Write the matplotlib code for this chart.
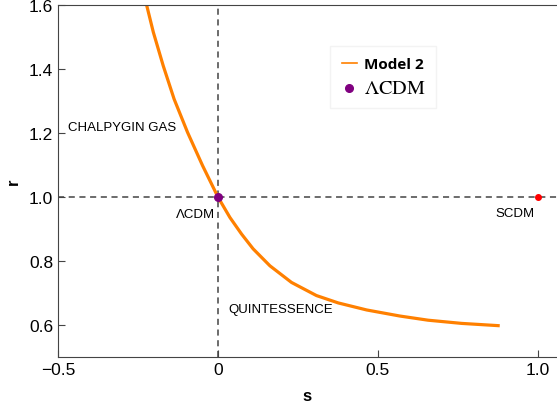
import numpy as np
from matplotlib import pyplot as plt

plt.rcParams['font.family'] = 'Liberation Sans'
plt.rcParams['mathtext.fontset'] = 'stix'

# curve (s, r)
s_vals = [-0.223, -0.202, -0.171, -0.137, -0.095, -0.048, 0.0, 0.0375, 0.074,
          0.110, 0.1625, 0.230, 0.308, 0.376, 0.465, 0.569, 0.657, 0.762, 0.876]
r_vals = [1.600, 1.515, 1.410, 1.306, 1.202, 1.098, 1.0, 0.936, 0.884,
          0.838, 0.785, 0.733, 0.692, 0.669, 0.647, 0.628, 0.615, 0.605, 0.598]

lcdm = (0.0, 1.0)
scdm = (1.0, 1.0)

xticks = [-0.5, 0, 0.5, 1.0]
xticklabels = ['\u22120.5', '0', '0.5', '1.0']
yticks = [0.6, 0.8, 1.0, 1.2, 1.4, 1.6]

W, H = 557, 410
fig = plt.figure(figsize=(W/100, H/100), dpi=100)
ax = fig.add_axes([58/W, (H-358)/H, (W-58)/W, 352/H])

ax.axvline(0, color='#444444', lw=1.1, ls=(0, (4, 3)), zorder=1)
ax.axhline(1, color='#444444', lw=1.1, ls=(0, (4, 3)), zorder=1)

ax.plot(s_vals, r_vals, color='#ff8000', lw=2.3, label='Model 2', zorder=2,
        solid_joinstyle='round')
ax.plot(*lcdm, 'o', color='#800080', ms=5.5, label=r'$\Lambda\mathrm{CDM}$', zorder=3)
ax.plot(*scdm, 'o', color='#ff0000', ms=4, zorder=3)

ax.text(-0.469, 1.219, 'CHALPYGIN GAS', fontsize=9.5, va='center')
ax.text(-0.01, 0.947, '\u039bCDM', fontsize=9.5, va='center', ha='right')
ax.text(0.034, 0.65, 'QUINTESSENCE', fontsize=9.5, va='center')
ax.text(0.928, 0.95, 'SCDM', fontsize=9.5, va='center', ha='center')

ax.set_xlim(-0.5, 1.06)
ax.set_ylim(0.5, 1.6)
ax.set_xticks(xticks)
ax.set_xticklabels(xticklabels)
ax.set_yticks(yticks)
ax.tick_params(direction='in', labelsize=12.5, length=5, color='#444444')
for sp in ax.spines.values():
    sp.set_color('#444444')
ax.spines['right'].set_visible(False)

ax.set_xlabel('s', fontsize=12, fontweight='bold', labelpad=8)
ax.set_ylabel('r', fontsize=12, fontweight='bold', labelpad=6)

leg = ax.legend(loc='upper left', bbox_to_anchor=(0.532, 0.904),
                handlelength=1.1, handletextpad=0.5, borderpad=0.8,
                labelspacing=0.5, frameon=True, fancybox=False,
                edgecolor='#f0f0f0')
t1, t2 = leg.get_texts()
t1.set_fontweight('bold')
t1.set_family('Open Sans')
t1.set_fontsize(11)
t2.set_fontsize(14.5)
leg.get_lines()[0].set_linewidth(1.2)

fig.savefig('out.png', dpi=100)
